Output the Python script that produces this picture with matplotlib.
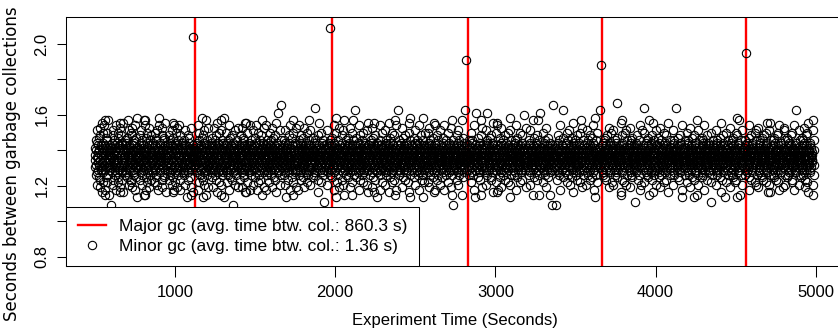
import numpy as np
import matplotlib
matplotlib.use("Agg")
import matplotlib.pyplot as plt
from matplotlib.lines import Line2D

# Major collections: times (s) at which a full gc happened
major_gc_times = [1125, 1979, 2826, 3667, 4567]
major_gc_label = "Major gc (avg. time btw. col.: 860.3 s)"
minor_gc_label = "Minor gc (avg. time btw. col.: 1.36 s)"

# Minor collections: the run starts at this time, each value is the gap to the previous one
first_minor_gc = 498.0
# Gaps of the minor collections that straddle a major collection ("~" below)
spanning_intervals = [2.04, 2.09, 1.91, 1.88, 1.95]
# One character per minor gc gap: "T" is 1.36 s, each neighbouring character is 0.014 s apart
LEVELS = "0123456789:;<=>?@ABCDEFGHIJKLMNOPQRSTUVWXYZ[]^_`abcdefghijklmnopqrstu"
CENTER_CHAR, CENTER_GAP, STEP = "T", 1.36, 0.014
minor_gc_gaps = """
SUXPM[ QWZNI` TTOYVR ]LWQHa K^SUYO PXFcRV NZ_JUS WQbGEd OYL]XP VRJ_[M USdEQW
RVYOUS PXATWQ ZNTTK^ `IVRSU [MOYXP QWbGNZ USRVJ_ ]LPXYO FcHaWQ SU^KOY ZNcFVR
WQTTSU YOM[VR ZNL]PX QWdTUS I`OYRV XPTT_J K^SUaH WQYOZN [MVRGb USPXL] eDQWTT
XPOYRV TTQWK^ SUZN`I M[VRPX YOUSdE WQdEbG L]RVNZ _JXPSU OYHaQW TT[MVR ^KUSYO
USVRNZ QWPXJ_ YOTT[M ]LSU`I RVXPGb QWeTOY ZNUSTT aHK^VR PXWQ]L M[YOSU cFTTQW
TTYOQW RVSU^K XPNZ[M USWQ`I OYVRFc L]GbPX QWZNJ_ SUYOHa RVXPM[ TTUSbG WQK^OY
SUXPVR ZNTTQW M[OY`I PXRVUS YODTSU K^WQNZ TT]LXP RVHaQW ETUSOY FT~TVR PXTTWQ
QWSUYO ZNRVbG TTPX_J [MUSVR WQOYL] XPeDK^ SUI`NZ RVQWdE OYXPTT M[USaH VRWQYO
RVTTZN XPSU]L YOQWHa USVR[M OYPX^K TTWQcF ZNUSJ_ VRYOXP SUEd`I QWM[RV NZOYeD
PXUSQW TTYO_J RVNZ[M SUXPbG WQL]OY VRTTK^ USZNQW ATPXVR TTI`SU OYM[WQ RVHaXP
YOWQTT SUK^RV XPZNaH QWUS]L OYM[VR cFPXFc SU_JYO WQRVNZ XPTTGb USOY[M QWVR`I
VRXPSU OYTTL] QWZNbG USRV_J PXYOTT M[WQK^ SUVRXP dETTOY ZNQWHa RVUSPX bGYO[M
SUWQNZ TTXPJ_ RVYOM[ QWUSaH PXTT]L OYVRK^ WQSUcF TTXPZN gTRVUS YOQWI` M[SUjT
XPRVTT YOSU[M QWNZ`I DTWQVR PXYOUS K^TTZN RVbGQW SUXP]L OYdEJ_ VRWQSU ZNYOHa
TTQWYO SURVGb XPM[US ZNOYK^ WQTTVR L]PXSU aHQWYO TTRVNZ _JUSXP WQM[dT OY`IRV
USYOPX RVTT]L QWSUZN M[VRiT TTOYWQ XPK^US FcRVYO SUTTPX J_QWNZ VR[MUS BTOYTT
PXWQSU YOTTI` RVXPNZ SUQW[M ~TOYVR TTL]US QWPXbG ZNRVYO USDe_J XPWQM[ SUVRaH
WQYOTT RVSUK^ PXZN`I USQWdE OYVRTT M[XPSU QW]LYO TTRVZN HaUSWQ XPOYJ_ EdVR[M
SUTThT YOQWL] RVXPUS ZNTTbG WQOY^K VRUSPX TT[MQW _JSUYO NZRVTT XPWQ`I USOYFc
RVYOSU TTXPM[ QWZNaH USVR]L PXcFYO K^WQUS RVNZDT OYSUXP TTQWbG [MVRYO SUPXJ_
XPSUTT YOVR`I QWNZ[M RVUSPX TTOYcF WQL]SU ZNXPVR _JTTQW YOUSK^ PXRVdE GbQWOY
TTSUhT RVQWM[ YOXPNZ USTTaH VR]LWQ OYPXSU K^TTRV ZNQWYO USXPJ_ FcVR[M eDSUWQ
QWYORV SUTT]L PXNZ`I VRUSWQ TTOY[M XPSUbG ZNTTRV YOQW^K USPXeD M[RVOY J_WQSU
OYTTXP RVSU_J QWZNHa USM[VR PXYOTT WQ]LSU cFRVNZ bGXPQW OYUSK^ VR[MTT SUWQI`
SURVYO TTQWL] XPNZUS bGVRTT WQOY[M SUPXJ_ RVTTZN QWYOUS aHXPVR EdM[SU ATOYWQ
RVXPTT SUYOK^ QWZN`I USVR[M PXTTWQ OYSUdE VR]LTT XPNZQW UShTRV ~TYOSU TTPXM[
YOSUTT RVQWJ_ XPZN[M USTTGb WQOYVR DTSUgT PXRV]L TTYOQW NZUSK^ XPEdaH VRSUOY
TTWQXP SURV`I OYNZM[ gTTTUS VRYOQW PX]LTT K^SUZN RVcFYO WQTTXP USJ_VR OYcFbG
QWXPSU TTYOL] RVNZHa USQW[M OYTTVR XPSU^K WQZNTT RVPXYO _JUSQW De`IRV M[XPSU
SUYORV TTQWM[ XPZNbG USVRL] WQTTOY PXSUJ_ RVYOTT NZQWK^ USXPVR fTWQTT YOSUaH
RVTTXP QWSU[M OYZN`I USVRTT WQPXdE YO]LSU TTRVQW NZXPK^ SUYOVR dEM[QW USgTXP
XPUSTT YORVJ_ QWNZ[M SUTTHa VRWQYO PXL]US TTRVZN ETQWXP SUYOAT jTVRUS TTPXOY
TTATSU QWYOK^ RVZN[M XPUSbG TTWQVR OYSU]L hTXPTT QWRVNZ USYO_J VRTTM[ SUXP`I
SUQWTT RVYOL] PXZNcF USTTVR WQ[MOY XPSUK^ TTRVQW ZNYOJ_ USXPdT aHVRSU WQM[OY
YOTTRV SUXPI` QWNZ[M TTUSWQ VROY^K PXTTL] SUQWZN bGRVYO eDXPUS M[WQJ_ RVSUTT
RVSUXP hTQWTT ~TYOUS NZVRM[ TTPX]L QWYOSU K^RVTT XPWQHa USZNOY TTVR_J SUQW`I
XPYOTT SURV[M QWZNL] kTUSVR OYPXTT WQSUcF RVEdK^ NZQWYO USXPJ_ TTVR`I SUWQM[
TTUSQW RVYOaH XPNZ[M SUTT]L VRWQOY PXUSTT BTRVZN QWYO^K SUXPTT M[VRbG USQWI`
SUVRTT YOXPJ_ iTQWUS ZNTT[M RVOYL] WQSUdE XPTTVR NZYOK^ USQWFc M[RVXP SUOY`I
VRTTYO SUQW]L XPZNHa USRV[M TTWQOY PXSU_J VRTTZN QWYOK^ USXPTT cFRVSU WQM[TT
YOSUXP TTRV`I QWNZ[M USTTVR iTWQOY PXSUL] TTRVK^ ZNQWYO USXPbG DTVRTT SUWQM[
TTXPUS RVYOJ_ QWZN[M SUTTaH VRWQOY PX]LUS TTRVK^ DTQWZN YOUSXP dEVR`I SUM[WQ
SURVTT XPQWL] YONZ[M USTTGb VRWQOY PXSU^K TTRVZN QWYOUS XPTTJ_ BTVRSU M[WQOY
RVTTQW SUXP`I YONZM[ USRVTT WQOY]L PXTTcF SUQWK^ ZNRVYO USDTXP TTVR_J SUWQ[M
YOTTSU XPRVHa ZNQW[M TTUSOY L]WQVR SUPXJ_ RVK^De QWZNUS YOXPdE TTVRSU M[WQ`I
QWSUTT XPRVM[ YO~TUS TTZNVR OYWQ]L bGPXSU RVTT^K YONZQW XPUSTT VRJ_SU I`WQ[M
TTSURV aHYOXP NZQW[M VRUSTT ]LWQOY K^PXSU RVTTJ_ YOZNQW cFXPUS VR`ISU cFWQM[
SURVTT [MYOXP L]QWNZ TTUSVR K^WQOY _JPXSU GbTTRV OYZNQW TTUSXP SUHaVR `IWQM[
VRTTSU ]LXPYO [MQWZN VRUSTT OY^KWQ J_PXSU bGTTRV YOQWZN hTUSXP SUVRTT I`WQM[
USTTVR L]YOXP QWM[ZN TTaHUS K^WQOY SU_JPX cFTTRV QWYOZN XPTTUS VRSUdE `IM[WQ
"""

x_ticks = [1000, 2000, 3000, 4000, 5000]
y_ticks = [0.8, 1.0, 1.2, 1.4, 1.6, 1.8, 2.0]
y_ticklabels = ["0.8", "", "1.2", "", "1.6", "", "2.0"]
y_range = (0.8, 2.1)
x_title = "Experiment Time (Seconds)"
y_title = "Seconds between garbage collections"

# decode the gap string into seconds
codes = "".join(minor_gc_gaps.split())
spans = iter(spanning_intervals)
center_idx = LEVELS.index(CENTER_CHAR)
minor_gc_intervals = np.array(
    [next(spans) if c == "~" else CENTER_GAP + STEP * (LEVELS.index(c) - center_idx)
     for c in codes]
)
minor_gc_times = first_minor_gc + np.cumsum(minor_gc_intervals)

SANS = "Liberation Sans"
W, H = 838, 332
fig = plt.figure(figsize=(W / 100, H / 100), dpi=100)
left, right, top, bottom = 66, 843, 17, 266
ax = fig.add_axes([left / W, 1 - bottom / H, (right - left) / W, (bottom - top) / H])

for t in major_gc_times:
    ax.axvline(t, color="#ff0000", lw=1.7, zorder=2)
ax.plot(minor_gc_times, minor_gc_intervals, linestyle="none", marker="o",
        mfc="none", mec="black", ms=6.0, mew=0.8, zorder=3)

# R-style 4% padding around the data range
lo, hi = minor_gc_times.min(), minor_gc_times.max()
ax.set_xlim(lo - 0.04 * (hi - lo), hi + 0.04 * (hi - lo))
ylo, yhi = y_range
ax.set_ylim(ylo - 0.04 * (yhi - ylo), yhi + 0.04 * (yhi - ylo))

ax.set_xticks(x_ticks)
ax.set_xticklabels([str(v) for v in x_ticks], fontfamily=SANS, fontsize=12)
ax.set_yticks(y_ticks)
ax.set_yticklabels(y_ticklabels, fontfamily=SANS, fontsize=12, rotation=90, va="center")
ax.tick_params(axis="x", length=7.8, width=0.75, pad=6.2, colors="black")
ax.tick_params(axis="y", length=6.2, width=0.75, pad=5.6, colors="black")
for sp in ax.spines.values():
    sp.set_linewidth(0.75)
    sp.set_color("black")

ax.set_xlabel(x_title, fontfamily=SANS, fontsize=12)
ax.xaxis.set_label_coords(0.5, (bottom - 320) / (bottom - top))
ax.xaxis.label.set_verticalalignment("center")
ax.set_ylabel(y_title, fontfamily="DejaVu Sans", fontsize=12)
ax.yaxis.set_label_coords((12 - left) / (right - left), (bottom - 164) / (bottom - top))
ax.yaxis.label.set_verticalalignment("center")

handles = [
    Line2D([], [], color="#ff0000", lw=1.7),
    Line2D([], [], linestyle="none", marker="o", mfc="none", mec="black", ms=6.0, mew=0.8),
]
leg = ax.legend(handles, [major_gc_label, minor_gc_label], loc="lower left",
                bbox_to_anchor=(0, 0), borderaxespad=0, frameon=True, fancybox=False,
                framealpha=1, edgecolor="black", prop={"family": SANS, "size": 12.5},
                handlelength=1.6, handletextpad=0.75, borderpad=0.68, labelspacing=0.3)
leg.get_frame().set_linewidth(0.75)
leg.set_zorder(5)

fig.savefig("out.png", dpi=100)
